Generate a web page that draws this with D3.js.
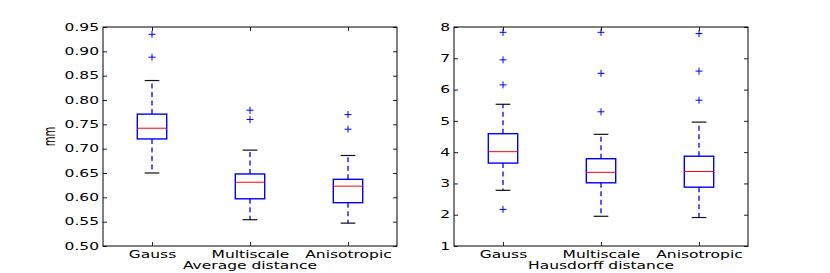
<!DOCTYPE html>
<html>
<head>
<meta charset="utf-8">
<script src="https://cdn.jsdelivr.net/npm/d3@7"></script>
<style>
  body { margin: 0; background: #fff; }
  svg { display: block; }
  text { font-family: "DejaVu Sans", sans-serif; fill: #000; }
</style>
</head>
<body>
<div id="chart"></div>
<script>
// method names (same for both panels)
const methods = ["Gauss", "Multiscale", "Anisotropic"];

// left panel: average distance (mm)
const avgTicks = [0.50, 0.55, 0.60, 0.65, 0.70, 0.75, 0.80, 0.85, 0.90, 0.95];
const avgWhiskerLow = [0.650, 0.554, 0.547];
const avgQ1 = [0.720, 0.597, 0.589];
const avgMedian = [0.742, 0.631, 0.623];
const avgQ3 = [0.771, 0.648, 0.637];
const avgWhiskerHigh = [0.840, 0.697, 0.686];
const avgFliers = [[0.935, 0.888], [0.779, 0.760], [0.770, 0.740]];

// right panel: hausdorff distance (mm)
const hausTicks = [1, 2, 3, 4, 5, 6, 7, 8];
const hausWhiskerLow = [2.78, 1.95, 1.91];
const hausQ1 = [3.65, 3.02, 2.88];
const hausMedian = [4.015, 3.355, 3.38];
const hausQ3 = [4.59, 3.79, 3.87];
const hausWhiskerHigh = [5.53, 4.57, 4.96];
const hausFliers = [[7.83, 6.95, 6.15, 2.17], [7.83, 6.52, 5.29], [7.79, 6.59, 5.66]];

const width = 830, height = 273;
const stretch = 1.55;   // the source picture is stretched sideways, text too
const fontSize = 10;

const svg = d3.select("#chart").append("svg")
    .attr("width", width)
    .attr("height", height);

function makeStats(lo, q1, med, q3, hi, fl) {
    return methods.map((m, i) => ({
        name: m, lo: lo[i], q1: q1[i], med: med[i], q3: q3[i], hi: hi[i], fliers: fl[i]
    }));
}

function drawPanel(opts) {
    const { left, right, top, bottom, ticks, fmt, stats, xlabel, ylabel } = opts;

    const x = d3.scalePoint()
        .domain(methods)
        .range([left, right])
        .padding(0.5);

    const y = d3.scaleLinear()
        .domain(d3.extent(ticks))
        .range([bottom, top]);

    const g = svg.append("g");
    const step = x.step();
    const boxW = step * 0.3;
    const capW = boxW / 2;

    // axes (ticks inward on all four sides)
    const yLeft = g.append("g")
        .attr("transform", `translate(${left},0)`)
        .call(d3.axisLeft(y).tickValues(ticks).tickFormat(fmt).tickSizeInner(-4).tickSizeOuter(0).tickPadding(4));
    g.append("g")
        .attr("transform", `translate(${right},0)`)
        .call(d3.axisRight(y).tickValues(ticks).tickFormat("").tickSizeInner(-4).tickSizeOuter(0));
    const xBottom = g.append("g")
        .attr("transform", `translate(0,${bottom})`)
        .call(d3.axisBottom(x).tickSizeInner(-4).tickSizeOuter(0).tickPadding(5));
    g.append("g")
        .attr("transform", `translate(0,${top})`)
        .call(d3.axisTop(x).tickFormat("").tickSizeInner(-4).tickSizeOuter(0));

    g.selectAll(".domain").remove();
    g.selectAll(".tick line").attr("stroke", "#222").attr("stroke-width", 1);

    yLeft.selectAll("text")
        .attr("font-size", fontSize)
        .attr("font-family", "DejaVu Sans")
        .attr("x", -4 / stretch)
        .attr("transform", `scale(${stretch},1)`);
    xBottom.selectAll("text")
        .attr("font-size", fontSize)
        .attr("font-family", "DejaVu Sans")
        .attr("transform", `scale(${stretch},1)`);

    // frame
    g.append("rect")
        .attr("x", left)
        .attr("y", top)
        .attr("width", right - left)
        .attr("height", bottom - top)
        .attr("fill", "none")
        .attr("stroke", "#000")
        .attr("stroke-width", 1);

    const box = g.selectAll(".box")
        .data(stats)
        .enter().append("g")
        .attr("class", "box");

    // whiskers
    box.append("line")
        .attr("x1", d => x(d.name)).attr("x2", d => x(d.name))
        .attr("y1", d => y(d.q3)).attr("y2", d => y(d.hi))
        .attr("stroke", "#0000ff").attr("stroke-width", 1.3)
        .attr("stroke-dasharray", "5,3.5");
    box.append("line")
        .attr("x1", d => x(d.name)).attr("x2", d => x(d.name))
        .attr("y1", d => y(d.q1)).attr("y2", d => y(d.lo))
        .attr("stroke", "#0000ff").attr("stroke-width", 1.3)
        .attr("stroke-dasharray", "5,3.5");

    // caps
    ["lo", "hi"].forEach(k => {
        box.append("line")
            .attr("x1", d => x(d.name) - capW / 2).attr("x2", d => x(d.name) + capW / 2)
            .attr("y1", d => y(d[k])).attr("y2", d => y(d[k]))
            .attr("stroke", "#111").attr("stroke-width", 1.2);
    });

    // box
    box.append("rect")
        .attr("x", d => x(d.name) - boxW / 2)
        .attr("y", d => y(d.q3))
        .attr("width", boxW)
        .attr("height", d => y(d.q1) - y(d.q3))
        .attr("fill", "none")
        .attr("stroke", "#0000ff")
        .attr("stroke-width", 1.4);

    // median
    box.append("line")
        .attr("x1", d => x(d.name) - boxW / 2).attr("x2", d => x(d.name) + boxW / 2)
        .attr("y1", d => y(d.med)).attr("y2", d => y(d.med))
        .attr("stroke", "#ff0000").attr("stroke-width", 1);

    // fliers as '+'
    box.each(function (d) {
        const sel = d3.select(this);
        d.fliers.forEach(v => {
            const cx = x(d.name), cy = y(v);
            sel.append("path")
                .attr("d", `M${cx - 3.5},${cy}H${cx + 3.5}M${cx},${cy - 3.5}V${cy + 3.5}`)
                .attr("stroke", "#0000ff")
                .attr("stroke-width", 1);
        });
    });

    // labels
    const cx = (left + right) / 2;
    g.append("text")
        .attr("transform", `translate(${cx},${bottom + 23}) scale(${stretch},1)`)
        .attr("text-anchor", "middle")
        .attr("font-size", fontSize)
        .text(xlabel);

    if (ylabel) {
        g.append("text")
            .attr("transform", `translate(${left - 48},${(top + bottom) / 2}) scale(${stretch},1) rotate(-90)`)
            .attr("text-anchor", "middle")
            .attr("font-size", fontSize)
            .text(ylabel);
    }
}

drawPanel({
    left: 103, right: 397, top: 27, bottom: 246,
    ticks: avgTicks,
    fmt: d3.format(".2f"),
    stats: makeStats(avgWhiskerLow, avgQ1, avgMedian, avgQ3, avgWhiskerHigh, avgFliers),
    xlabel: "Average distance",
    ylabel: "mm"
});

drawPanel({
    left: 454, right: 748, top: 27, bottom: 246,
    ticks: hausTicks,
    fmt: d3.format("d"),
    stats: makeStats(hausWhiskerLow, hausQ1, hausMedian, hausQ3, hausWhiskerHigh, hausFliers),
    xlabel: "Hausdorff distance",
    ylabel: null
});
</script>
</body>
</html>
